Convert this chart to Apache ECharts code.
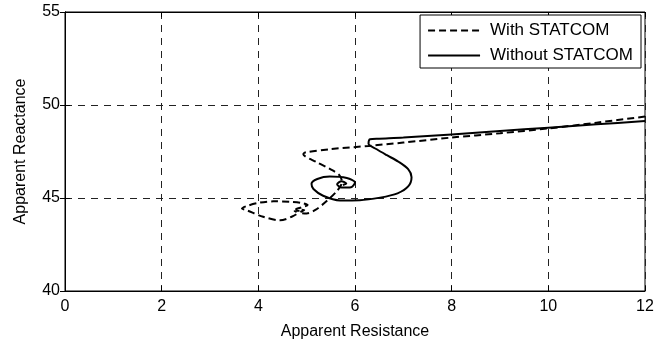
<!DOCTYPE html>
<html>
<head>
<meta charset="utf-8">
<script src="https://cdn.jsdelivr.net/npm/echarts@6/dist/echarts.min.js"></script>
<style>html,body{margin:0;padding:0;background:#fff}#c{width:667px;height:345px}</style>
</head>
<body>
<div id="c"></div>
<script>
// Series names
const seriesNames = ['With STATCOM', 'Without STATCOM'];

// With STATCOM (dashed) trajectory
const withX = [12.0, 11.0, 10.0, 9.0, 8.0, 7.0, 6.28, 5.5, 4.97, 4.93, 5.21, 5.48, 5.68, 5.73, 5.64, 5.42, 5.18, 5.0, 4.85, 4.95, 4.78, 4.90, 5.02, 4.88, 4.66, 4.31, 4.03, 3.76, 3.66, 3.76, 4.10, 4.45, 4.69, 4.82, 4.75, 4.86];
const withY = [49.38, 49.05, 48.74, 48.48, 48.25, 47.98, 47.80, 47.63, 47.45, 47.36, 46.92, 46.56, 46.22, 45.85, 45.42, 44.85, 44.36, 44.17, 44.22, 44.35, 44.40, 44.50, 44.62, 44.74, 44.80, 44.82, 44.75, 44.57, 44.43, 44.34, 43.99, 43.80, 43.99, 44.22, 44.30, 44.32];

// Without STATCOM (solid) trajectory
const withoutX = [12.0, 11.0, 10.0, 9.0, 8.0, 7.0, 6.5, 6.31, 6.28, 6.45, 6.66, 6.90, 7.10, 7.17, 7.10, 6.88, 6.52, 6.10, 5.69, 5.34, 5.14, 5.10, 5.22, 5.48, 5.83, 6.00, 5.92, 5.72, 5.63, 5.72, 5.82, 5.75];
const withoutY = [49.14, 48.96, 48.78, 48.60, 48.42, 48.25, 48.19, 48.16, 47.92, 47.62, 47.30, 46.95, 46.55, 46.12, 45.62, 45.25, 45.02, 44.88, 44.87, 45.12, 45.48, 45.76, 46.02, 46.15, 46.07, 45.83, 45.58, 45.56, 45.74, 45.90, 45.78, 45.70];

// Axis ticks
const xTicks = [0, 2, 4, 6, 8, 10, 12];
const yTicks = [40, 45, 50, 55];

const zip = (xs, ys) => xs.map((x, i) => [x, ys[i]]);
const FONT = 'Liberation Sans, Arial, Helvetica, sans-serif';

const chart = echarts.init(document.getElementById('c'), null, {renderer: 'canvas'});
const gridLine = {show: true, lineStyle: {color: '#222', width: 1, type: [7, 6]}};
const lbl = {color: '#000', fontSize: 16, fontFamily: FONT};

chart.setOption({
  animation: false,
  backgroundColor: '#fff',
  grid: {left: 65, right: 22, top: 12, bottom: 52, show: true, borderColor: '#000', borderWidth: 1, backgroundColor: 'transparent'},
  legend: {
    orient: 'vertical', right: 26, top: 15,
    backgroundColor: '#fff', borderColor: '#000', borderWidth: 1,
    padding: [7, 8, 4, 7], itemGap: 8, itemWidth: 52, itemHeight: 14,
    itemStyle: {opacity: 0},
    textStyle: {color: '#000', fontSize: 17, fontFamily: FONT, lineHeight: 17, padding: [0, 0, 0, 5]},
    data: seriesNames
  },
  xAxis: [{
    type: 'value', min: xTicks[0], max: xTicks[xTicks.length - 1], interval: 2,
    name: 'Apparent Resistance', nameLocation: 'middle', nameGap: 33,
    nameTextStyle: {color: '#000', fontSize: 16, fontFamily: FONT},
    axisLine: {show: true, lineStyle: {color: '#000', width: 1}},
    axisTick: {show: true, inside: true, length: 5, lineStyle: {color: '#000'}},
    axisLabel: Object.assign({margin: 8}, lbl),
    splitLine: gridLine
  }, {
    type: 'value', position: 'top', min: xTicks[0], max: xTicks[xTicks.length - 1], interval: 2,
    axisLine: {show: true, lineStyle: {color: '#000', width: 1}},
    axisTick: {show: true, inside: true, length: 5, lineStyle: {color: '#000'}},
    axisLabel: {show: false}, splitLine: {show: false}
  }],
  yAxis: [{
    type: 'value', min: yTicks[0], max: yTicks[yTicks.length - 1], interval: 5,
    name: 'Apparent Reactance', nameLocation: 'middle', nameGap: 36, nameRotate: 90,
    nameTextStyle: {color: '#000', fontSize: 16, fontFamily: FONT},
    axisLine: {show: true, lineStyle: {color: '#000', width: 1}},
    axisTick: {show: true, inside: true, length: 5, lineStyle: {color: '#000'}},
    axisLabel: Object.assign({margin: 5}, lbl),
    splitLine: gridLine
  }, {
    type: 'value', position: 'right', min: yTicks[0], max: yTicks[yTicks.length - 1], interval: 5,
    axisLine: {show: true, lineStyle: {color: '#000', width: 1}},
    axisTick: {show: true, inside: true, length: 5, lineStyle: {color: '#000'}},
    axisLabel: {show: false}, splitLine: {show: false}
  }],
  series: [{
    name: seriesNames[0], type: 'line', data: zip(withX, withY),
    symbol: 'none', smooth: 0.3, clip: true,
    lineStyle: {color: '#000', width: 2, type: [7, 4]},
    itemStyle: {color: '#000'}
  }, {
    name: seriesNames[1], type: 'line', data: zip(withoutX, withoutY),
    symbol: 'none', smooth: 0.3, clip: true,
    lineStyle: {color: '#000', width: 2, type: 'solid'},
    itemStyle: {color: '#000'}
  }]
});
</script>
</body>
</html>
